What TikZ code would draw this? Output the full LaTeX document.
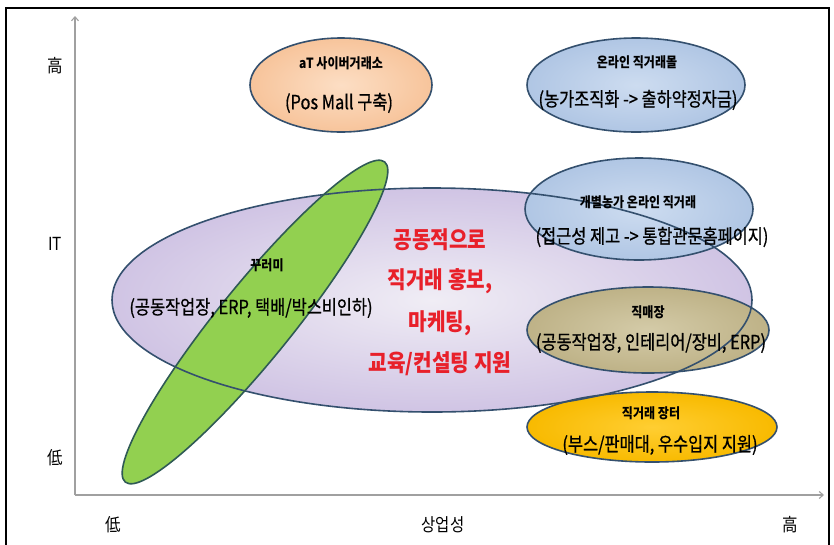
\documentclass[tikz,border=0pt]{standalone}
\usepackage{fontspec}
\setmainfont{Noto Sans CJK KR}[FakeStretch=0.86]
\newfontfamily\subfont{Noto Sans CJK KR}[FakeStretch=0.84, FakeBold=0.7]
\usetikzlibrary{shapes.geometric,arrows.meta}
\definecolor{edgeblue}{HTML}{34506E}
\definecolor{edgegreen}{HTML}{2F5A55}
\definecolor{axisgray}{HTML}{A0A0A0}
\definecolor{redtxt}{HTML}{E8202A}
\begin{document}
\begin{tikzpicture}[x=1pt,y=-1pt,
  blob/.style={ellipse, inner sep=0pt, draw=none},
  rim/.style={ellipse, inner sep=0pt, draw=edgeblue, line width=1.6pt},
  ttl/.style={font=\bfseries\fontsize{14}{16}\selectfont, inner sep=0pt},
  sub/.style={font=\subfont\fontsize{19.5}{21}\selectfont, inner sep=0pt},
  redl/.style={font=\bfseries\fontsize{23.5}{25}\selectfont, text=redtxt, inner sep=0pt},
  axl/.style={font=\fontsize{18}{20}\selectfont, inner sep=0pt},
  axis/.style={draw=axisgray, line width=1.1pt, -{Straight Barb[length=4pt,width=7pt]}}]
\useasboundingbox (0,0) rectangle (834,544);
\fill[white] (0,0) rectangle (834,544);
% frame
\draw[line width=2pt] (6,560) -- (6,8) -- (829,8) -- (829,560);
% axes
\coordinate (O) at (75,495);
\coordinate (Ytop) at (75,16);
\coordinate (Xend) at (824,495);
\draw[axis] (O) -- (Ytop);
\draw[axis] (O) -- (Xend);
% fills
\node[blob, minimum width=640pt, minimum height=224pt, shading=radial, inner color={rgb,255:red,240;green,237;blue,245}, outer color={rgb,255:red,208;green,196;blue,228}] (big) at (432,300) {};
\node[blob, minimum width=412pt, minimum height=74pt, rotate=51, fill={rgb,255:red,146;green,208;blue,80}] (green) at (255,322) {};
\node[blob, minimum width=182pt, minimum height=94pt, shading=radial, inner color={rgb,255:red,252;green,222;blue,196}, outer color={rgb,255:red,247;green,196;blue,155}] (at) at (341,85) {};
\node[blob, minimum width=218pt, minimum height=94pt, shading=radial, inner color={rgb,255:red,205;green,220;blue,240}, outer color={rgb,255:red,176;green,198;blue,228}] (mall) at (636,85) {};
\node[blob, minimum width=228pt, minimum height=102pt, shading=radial, inner color={rgb,255:red,205;green,220;blue,240}, outer color={rgb,255:red,176;green,198;blue,228}] (ind) at (639,209) {};
\node[blob, minimum width=242pt, minimum height=86pt, shading=radial, inner color={rgb,255:red,212;green,203;blue,168}, outer color={rgb,255:red,190;green,178;blue,135}] (shop) at (648,330) {};
\node[blob, minimum width=250pt, minimum height=70pt, shading=radial, inner color={rgb,255:red,255;green,206;blue,50}, outer color={rgb,255:red,248;green,186;blue,0}] (mkt) at (652,427) {};
% outlines
\node[rim, minimum width=640pt, minimum height=224pt] (bigo) at (big.center) {};
\node[rim, draw=edgegreen, minimum width=412pt, minimum height=74pt, rotate=51] (greeno) at (green.center) {};
\node[rim, minimum width=182pt, minimum height=94pt] (ato) at (at.center) {};
\node[rim, minimum width=218pt, minimum height=94pt] (mallo) at (mall.center) {};
\node[rim, minimum width=228pt, minimum height=102pt] (indo) at (ind.center) {};
\node[rim, minimum width=242pt, minimum height=86pt] (shopo) at (shop.center) {};
\node[rim, minimum width=250pt, minimum height=70pt] (mkto) at (mkt.center) {};
% texts
\node[ttl] (t1) at (341,63) {aT 사이버거래소};
\node[sub] (s1) at (339,103) {(Pos Mall 구축)};
\node[ttl] (t2) at (637,62) {온라인 직거래몰};
\node[sub] (s2) at (638,100) {(농가조직화 -> 출하약정자금)};
\node[ttl] (t3) at (638,202) {개별농가 온라인 직거래};
\node[sub] (s3) at (652,237) {(접근성 제고 -> 통합관문홈페이지)};
\node[ttl] (t4) at (648,312) {직매장};
\node[sub] (s4) at (651,343) {(공동작업장, 인테리어/장비, ERP)};
\node[ttl] (t5) at (651,413) {직거래 장터};
\node[sub] (s5) at (660,445) {(부스/판매대, 우수입지 지원)};
\node[ttl] (t6) at (267,265) {꾸러미};
\node[sub] (s6) at (251,308) {(공동작업장, ERP, 택배/박스비인하)};
\node[redl] (r1) at (440,240) {공동적으로};
\node[redl] (r2) at (440,281) {직거래 홍보,};
\node[redl] (r3) at (440,323) {마케팅,};
\node[redl] (r4) at (440,364) {교육/컨설팅 지원};
% axis labels
\node[axl] (yh) at (55,66) {高};
\node[axl] (yi) at (55,244) {IT};
\node[axl] (yl) at (55,458) {低};
\node[axl] (xl) at (113,525) {低};
\node[axl] (xm) at (443,525) {상업성};
\node[axl] (xh) at (790,525) {高};
\end{tikzpicture}
\end{document}
